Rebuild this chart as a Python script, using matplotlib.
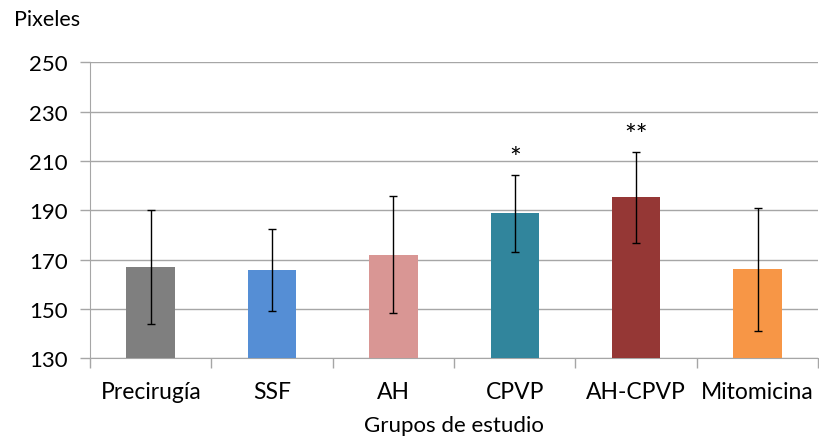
import numpy as np
import matplotlib
matplotlib.use('Agg')
import matplotlib.pyplot as plt

# data
groups = ['Precirugía', 'SSF', 'AH', 'CPVP', 'AH-CPVP', 'Mitomicina']
means = [167.0, 165.7, 172.0, 188.8, 195.2, 166.0]
errors = [23.0, 16.6, 23.7, 15.6, 18.6, 25.0]
marks = ['', '', '', '*', '**', '']
colors = ['#7F7F7F', '#558ED5', '#D99694', '#31859C', '#953735', '#F79646']
yticks = [130, 150, 170, 190, 210, 230, 250]

plt.rcParams['font.family'] = ['Lato', 'DejaVu Sans']

fig = plt.figure(figsize=(8.19, 4.39), dpi=100)
ax = fig.add_axes([0.110, 0.1815, 0.889, 0.6745])

grid_col = '#A6A6A6'
x = np.arange(len(groups))
ax.bar(x, [m - 130 for m in means], bottom=130, width=0.4, color=colors, zorder=3)
ax.errorbar(x, means, yerr=errors, fmt='none', ecolor='black', elinewidth=1,
            capsize=3, capthick=1, zorder=4)

for i, m in enumerate(marks):
    if m:
        ax.annotate(m, (x[i], means[i] + errors[i]), xytext=(0, 2),
                    textcoords='offset points', ha='center', va='bottom',
                    fontsize=20, zorder=5)

ax.set_xlim(-0.5, len(groups) - 0.5)
ax.set_ylim(130, 250)
ax.set_yticks(yticks)
ax.yaxis.grid(True, color=grid_col, linewidth=1)
ax.set_axisbelow(True)

# category labels centred, tick marks on the boundaries
ax.set_xticks(x)
ax.set_xticklabels(groups, fontsize=16.5)
ax.set_xticks(np.arange(-0.5, len(groups)), minor=True)
ax.tick_params(axis='x', which='major', length=0, pad=16)
ax.tick_params(axis='x', which='minor', length=7, color=grid_col, width=1)
ax.tick_params(axis='y', length=7, color=grid_col, width=1, pad=9, labelsize=16)

for s in ['top', 'right']:
    ax.spines[s].set_visible(False)
ax.spines['left'].set_color(grid_col)
ax.spines['bottom'].set_color(grid_col)

ax.set_xlabel('Grupos de estudio', fontsize=16, labelpad=10)
fig.text(14 / 819, 1 - 20 / 439, 'Pixeles', fontsize=15.5, va='center', ha='left')

fig.savefig('out.png', dpi=100)
